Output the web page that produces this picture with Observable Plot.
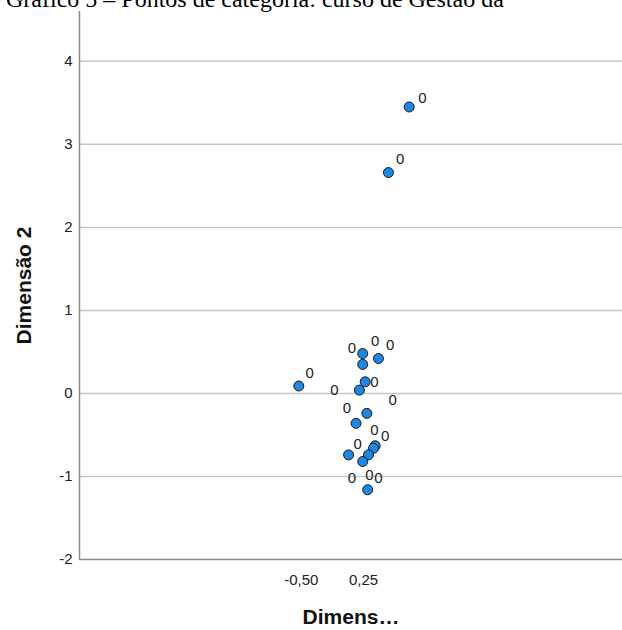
<!DOCTYPE html>
<html>
<head>
<meta charset="utf-8">
<script src="https://cdn.jsdelivr.net/npm/d3@7"></script>
<script src="https://cdn.jsdelivr.net/npm/@observablehq/plot@0.6"></script>
<style>
  html, body { margin: 0; padding: 0; background: #fff; overflow: hidden; }
  #wrap { position: relative; width: 622px; height: 630px; background: #fff; }
  #chart { position: absolute; top: 0; left: 0; z-index: 1; }
  #title { position: absolute; top: -13px; left: 6px; white-space: nowrap; z-index: 2;
           font-family: "Liberation Serif", "Times New Roman", serif; font-size: 24px; line-height: 24px; color: #000; }
</style>
</head>
<body>
<div id="wrap">
  <div id="chart"></div>
  <div id="title">Gráfico 5 – Pontos de categoria: curso de Gestão da</div>
</div>
<script>
// Category points (Dimensão 1, Dimensão 2)
const dim1 = [0.80, 0.55, 0.24, 0.43, 0.24, -0.53, 0.27, 0.20, 0.29, 0.16, 0.39, 0.37, 0.31, 0.07, 0.24, 0.30];
const dim2 = [3.45, 2.66, 0.48, 0.42, 0.35, 0.09, 0.14, 0.04, -0.24, -0.36, -0.63, -0.66, -0.74, -0.74, -0.82, -1.16];
// Point labels and where they sit (data units)
const pointLabels = ["0","0","0","0","0","0","0","0","0","0","0","0","0","0","0","0"];
const labelX = [0.96, 0.69, 0.39, 0.11, 0.57, -0.40, 0.38, -0.10, 0.60, 0.05, 0.38, 0.51, 0.18, 0.11, 0.32, 0.43];
const labelY = [3.56, 2.82, 0.63, 0.54, 0.58, 0.24, 0.14, 0.04, -0.08, -0.18, -0.44, -0.52, -0.61, -1.02, -0.98, -1.02];
// Axes
const xTicks = [-0.5, 0.25];
const xTickLabels = ["-0,50", "0,25"];
const yTicks = [-2, -1, 0, 1, 2, 3, 4];
const gridTicks = [-1, 0, 1, 2, 3, 4];
const xTitle = "Dimens…";
const yTitle = "Dimensão 2";

const points = dim1.map((x, i) => ({x, y: dim2[i]}));
const labels = pointLabels.map((t, i) => ({t, x: labelX[i], y: labelY[i]}));
const xDomain = [-3.172, 3.370];
const yDomain = [-2, 4.60];

const chart = Plot.plot({
  width: 622,
  height: 630,
  marginLeft: 79,
  marginRight: 0,
  marginTop: 11,
  marginBottom: 71,
  style: {fontFamily: "Arial, 'Liberation Sans', sans-serif", fontSize: "15px", color: "#222", background: "transparent"},
  x: {domain: xDomain, ticks: xTicks, tickFormat: d => xTickLabels[xTicks.indexOf(d)], tickSize: 0, tickPadding: 15, label: null},
  y: {domain: yDomain, ticks: yTicks, tickFormat: d => String(d), tickSize: 0, tickPadding: 7, label: null},
  marks: [
    Plot.ruleY(gridTicks, {stroke: "#c6c6c6", strokeWidth: 1.5}),
    Plot.ruleX([xDomain[0]], {stroke: "#8a8a8a", strokeWidth: 1.5}),
    Plot.ruleY([yDomain[0]], {stroke: "#8a8a8a", strokeWidth: 1.5}),
    Plot.dot(points, {x: "x", y: "y", r: 5, fill: "#1e88e0", stroke: "#1a1a1a", strokeWidth: 1}),
    Plot.text(labels, {x: "x", y: "y", text: "t", fontSize: 15, fill: "#222", textAnchor: "middle", lineAnchor: "middle"}),
    Plot.text([xTitle], {frameAnchor: "bottom", dy: 58, fontSize: 21, fontWeight: "bold", fill: "#111", textAnchor: "middle", lineAnchor: "middle"}),
    Plot.text([yTitle], {frameAnchor: "left", dx: -55, rotate: -90, fontSize: 21, fontWeight: "bold", fill: "#111", textAnchor: "middle", lineAnchor: "middle"})
  ]
});
document.getElementById("chart").appendChild(chart);
</script>
</body>
</html>
